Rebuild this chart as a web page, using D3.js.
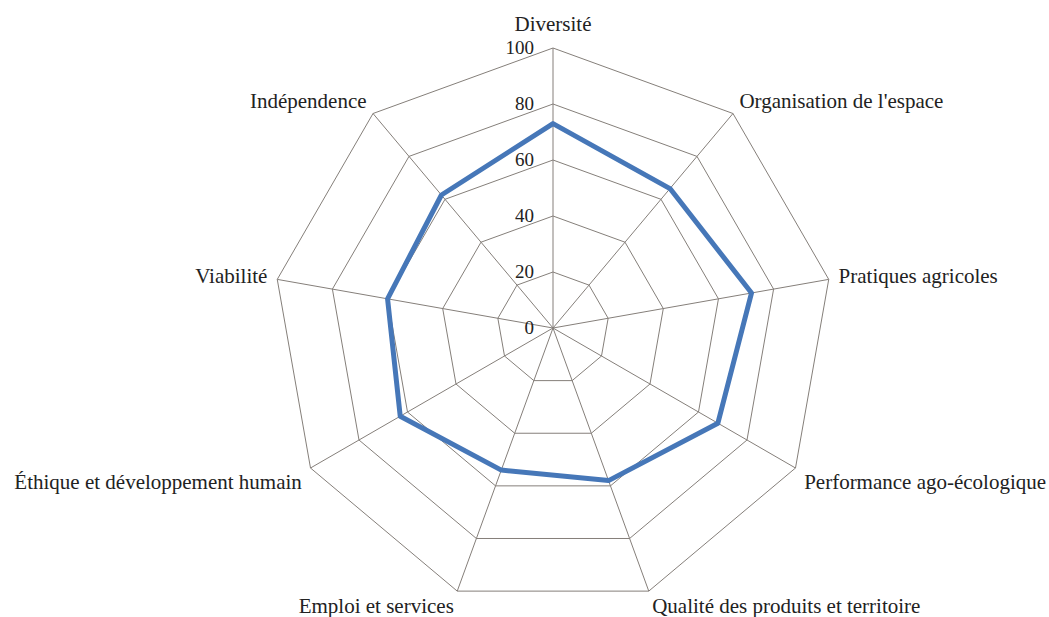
<!DOCTYPE html>
<html>
<head>
<meta charset="utf-8">
<script src="https://cdn.jsdelivr.net/npm/d3@7"></script>
<style>
  body { margin: 0; background: #fff; }
  text { font-family: "Liberation Serif", "Times New Roman", serif; fill: #222; }
</style>
</head>
<body>
<script>
var categories = ["Diversité", "Organisation de l'espace", "Pratiques agricoles",
                  "Performance ago-écologique", "Qualité des produits et territoire",
                  "Emploi et services", "Éthique et développement humain",
                  "Viabilité", "Indépendence"];
var values = [73, 65, 72, 68, 58, 54, 63, 60, 62];
var ticks = [0, 20, 40, 60, 80, 100];

var w = 1049, h = 617;
var cx = 553, cy = 328, R = 280;

var svg = d3.select("body").append("svg")
    .attr("width", w)
    .attr("height", h);

var r = d3.scaleLinear().domain([0, 100]).range([0, R]);
var ang = d3.scaleLinear().domain([0, categories.length]).range([0, 2 * Math.PI]);

function pt(i, v) {
    var a = ang(i);
    return [cx + r(v) * Math.sin(a), cy - r(v) * Math.cos(a)];
}

var g = svg.append("g");

// grid polygons
g.selectAll("polygon.grid")
    .data(ticks.filter(function(d) { return d > 0; }))
    .enter()
    .append("polygon")
    .attr("class", "grid")
    .attr("points", function(t) {
        return categories.map(function(c, i) { return pt(i, t).join(","); }).join(" ");
    })
    .attr("fill", "none")
    .attr("stroke", "#857f7a")
    .attr("stroke-width", 1);

// spokes
g.selectAll("line.spoke")
    .data(categories)
    .enter()
    .append("line")
    .attr("x1", cx).attr("y1", cy)
    .attr("x2", function(d, i) { return pt(i, 100)[0]; })
    .attr("y2", function(d, i) { return pt(i, 100)[1]; })
    .attr("stroke", "#857f7a")
    .attr("stroke-width", 1);

// tick labels
g.selectAll("text.tick")
    .data(ticks)
    .enter()
    .append("text")
    .attr("x", cx - 19)
    .attr("y", function(d) { return cy - r(d) + 2; })
    .attr("text-anchor", "end")
    .attr("dominant-baseline", "middle")
    .attr("font-size", "19px")
    .text(function(d) { return d; });

// data line
var line = d3.line().curve(d3.curveLinearClosed);
g.append("path")
    .attr("d", line(values.map(function(v, i) { return pt(i, v); })))
    .attr("fill", "none")
    .attr("stroke", "#4677b8")
    .attr("stroke-width", 5)
    .attr("stroke-linejoin", "round");

// category labels
g.selectAll("text.cat")
    .data(categories)
    .enter()
    .append("text")
    .attr("x", function(d, i) { return pt(i, 100)[0] + 10 * Math.sin(ang(i)); })
    .attr("y", function(d, i) {
        var c = Math.cos(ang(i));
        if (i === 0) return cy - R - 22;
        return pt(i, 100)[1] - 16 * c + (c < -0.3 && c > -0.7 ? 8 : 2);
    })
    .attr("text-anchor", function(d, i) {
        var s = Math.sin(ang(i));
        return Math.abs(s) < 0.01 ? "middle" : (s > 0 ? "start" : "end");
    })
    .attr("dominant-baseline", "middle")
    .attr("font-size", "21px")
    .text(function(d) { return d; });
</script>
</body>
</html>
